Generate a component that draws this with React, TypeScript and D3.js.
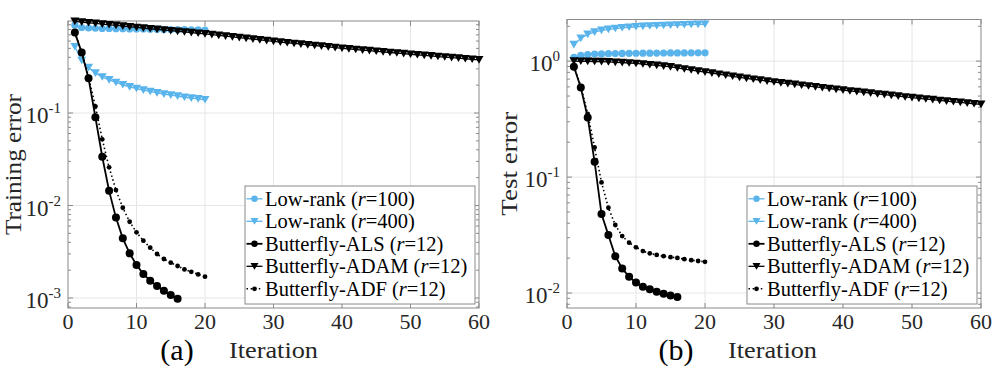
import { useEffect, useRef } from 'react';
import * as d3 from 'd3';

// Training error (panel a)
const trainLowRank100 = [0.89, 0.84, 0.83, 0.825, 0.82, 0.82, 0.815, 0.815, 0.81, 0.81, 0.81, 0.805, 0.805, 0.8, 0.8, 0.8, 0.8, 0.795, 0.795, 0.79];
const trainLowRank400 = [0.52, 0.37, 0.31, 0.27, 0.245, 0.228, 0.214, 0.202, 0.192, 0.184, 0.177, 0.171, 0.165, 0.16, 0.156, 0.152, 0.148, 0.145, 0.142, 0.139];
const trainALS = [0.74, 0.45, 0.237, 0.09, 0.0337, 0.0144, 0.0074, 0.00442, 0.00304, 0.00228, 0.00182, 0.00154, 0.00135, 0.0012, 0.00108, 0.00098];
const trainADAM = [
  0.977, 0.961, 0.945, 0.93, 0.914, 0.899, 0.885, 0.87, 0.856, 0.841,
  0.828, 0.815, 0.802, 0.789, 0.776, 0.764, 0.752, 0.74, 0.728, 0.716,
  0.703, 0.69, 0.678, 0.665, 0.653, 0.641, 0.63, 0.618, 0.607, 0.596,
  0.585, 0.575, 0.565, 0.556, 0.546, 0.537, 0.528, 0.519, 0.51, 0.501,
  0.494, 0.486, 0.479, 0.472, 0.465, 0.458, 0.451, 0.445, 0.438, 0.432,
  0.426, 0.42, 0.414, 0.408, 0.403, 0.397, 0.392, 0.386, 0.381, 0.376
];
const trainADF = [0.74, 0.46, 0.245, 0.118, 0.052, 0.0259, 0.0147, 0.00946, 0.00668, 0.00513, 0.00417, 0.0035, 0.00299, 0.00264, 0.00241, 0.00222, 0.00204, 0.00192, 0.0018, 0.0017];

// Test error (panel b)
const testLowRank100 = [1.08, 1.12, 1.14, 1.15, 1.155, 1.16, 1.162, 1.165, 1.167, 1.17, 1.171, 1.172, 1.174, 1.175, 1.176, 1.177, 1.178, 1.179, 1.18, 1.18];
const testLowRank400 = [1.39, 1.57, 1.7, 1.78, 1.84, 1.88, 1.91, 1.94, 1.96, 1.98, 1.995, 2.01, 2.02, 2.03, 2.04, 2.05, 2.06, 2.07, 2.075, 2.08];
const testALS = [0.893, 0.593, 0.327, 0.1355, 0.048, 0.0316, 0.0208, 0.0163, 0.0138, 0.0123, 0.01135, 0.01076, 0.01026, 0.00986, 0.00954, 0.00923];
const testADAM = [
  1.0, 0.998, 0.995, 0.993, 0.989, 0.984, 0.977, 0.97, 0.964, 0.955,
  0.944, 0.931, 0.918, 0.906, 0.891, 0.873, 0.855, 0.838, 0.82, 0.804,
  0.787, 0.771, 0.755, 0.74, 0.724, 0.711, 0.698, 0.685, 0.673, 0.661,
  0.65, 0.64, 0.63, 0.619, 0.61, 0.6, 0.59, 0.581, 0.571, 0.562,
  0.553, 0.546, 0.537, 0.53, 0.521, 0.514, 0.506, 0.499, 0.491, 0.484,
  0.478, 0.471, 0.465, 0.458, 0.452, 0.446, 0.441, 0.435, 0.429, 0.424
];
const testADF = [0.9, 0.61, 0.35, 0.18, 0.09, 0.0544, 0.0386, 0.031, 0.0272, 0.0248, 0.023, 0.022, 0.0213, 0.0208, 0.0204, 0.0201, 0.0196, 0.0192, 0.0189, 0.0186];

const xTicks = [0, 10, 20, 30, 40, 50, 60];
const legendNames = ['Low-rank (', 'Low-rank (', 'Butterfly-ALS (', 'Butterfly-ADAM (', 'Butterfly-ADF ('];
const legendRanks = ['100', '400', '12', '12', '12'];

const BLUE = '#5ab4ec';
const FONT = 'Liberation Serif, DejaVu Serif, serif';
const AXIS_GRAY = '#8a8a8a';

function buildSeries(lr100, lr400, als, adam, adf) {
  return [
    { values: lr100, color: BLUE, marker: 'circle', size: 3.6, width: 1.3, dash: null },
    { values: lr400, color: BLUE, marker: 'triangle', size: 9, width: 1.3, dash: null },
    { values: als, color: '#000', marker: 'circle', size: 4, width: 1.8, dash: null },
    { values: adam, color: '#000', marker: 'triangle', size: 9, width: 1.3, dash: null },
    { values: adf, color: '#000', marker: 'circle', size: 2.4, width: 1.6, dash: '1.5,2.6' }
  ];
}

function triPath(w) {
  const h = w * 0.85;
  return `M${-w / 2},${-h / 2}L${w / 2},${-h / 2}L0,${h / 2}Z`;
}

function drawMarker(sel, s) {
  if (s.marker === 'circle') {
    sel.append('circle').attr('r', s.size).attr('fill', s.color);
  } else {
    sel.append('path').attr('d', triPath(s.size)).attr('fill', s.color);
  }
}

function drawPanel(svg, cfg) {
  const { left, right, top, bottom, yMin, yMax, yTicks, series, yLabel, yLabelLen, tag } = cfg;
  const x = d3.scaleLinear().domain([0, 60]).range([left, right]);
  const y = d3.scaleLog().domain([yMin, yMax]).range([bottom, top]);
  const g = svg.append('g');

  // grid
  g.selectAll('.gx').data(xTicks.slice(1, -1)).join('line')
    .attr('x1', (d) => x(d)).attr('x2', (d) => x(d))
    .attr('y1', top).attr('y2', bottom)
    .attr('stroke', '#e6e6e6');
  g.selectAll('.gy').data(yTicks).join('line')
    .attr('x1', left).attr('x2', right)
    .attr('y1', (d) => y(d)).attr('y2', (d) => y(d))
    .attr('stroke', '#e6e6e6');

  // box + ticks
  g.append('rect')
    .attr('x', left).attr('y', top)
    .attr('width', right - left).attr('height', bottom - top)
    .attr('fill', 'none').attr('stroke', AXIS_GRAY);

  const minor = [];
  for (let e = Math.floor(Math.log10(yMin)); e <= Math.ceil(Math.log10(yMax)); e++) {
    for (let k = 2; k <= 9; k++) {
      const v = k * Math.pow(10, e);
      if (v > yMin && v < yMax) minor.push(v);
    }
  }
  const tickLines = [];
  xTicks.forEach((t) => {
    tickLines.push([x(t), bottom, x(t), bottom - 5]);
    tickLines.push([x(t), top, x(t), top + 5]);
  });
  yTicks.forEach((t) => {
    tickLines.push([left, y(t), left + 5, y(t)]);
    tickLines.push([right, y(t), right - 5, y(t)]);
  });
  minor.forEach((t) => {
    tickLines.push([left, y(t), left + 3, y(t)]);
    tickLines.push([right, y(t), right - 3, y(t)]);
  });
  g.selectAll('.tk').data(tickLines).join('line')
    .attr('x1', (d) => d[0]).attr('y1', (d) => d[1])
    .attr('x2', (d) => d[2]).attr('y2', (d) => d[3])
    .attr('stroke', AXIS_GRAY);

  // tick labels
  g.selectAll('.xl').data(xTicks).join('text')
    .attr('x', (d) => x(d)).attr('y', bottom + 21)
    .attr('text-anchor', 'middle')
    .attr('font-family', FONT).attr('font-size', 22).attr('fill', '#262626')
    .text((d) => d);

  const yl = g.selectAll('.yl').data(yTicks).join('text')
    .attr('x', left - 7).attr('y', (d) => y(d) + 10)
    .attr('text-anchor', 'end')
    .attr('font-family', FONT).attr('fill', '#262626');
  yl.append('tspan').attr('font-size', 23).text('10');
  yl.append('tspan').attr('font-size', 15).attr('dy', -10)
    .text((d) => String(Math.round(Math.log10(d))));

  // series
  series.forEach((s) => {
    const pts = s.values.map((v, i) => [i + 1, v]);
    const path = g.append('path')
      .datum(pts)
      .attr('d', d3.line().x((d) => x(d[0])).y((d) => y(d[1])))
      .attr('fill', 'none')
      .attr('stroke', s.color)
      .attr('stroke-width', s.width);
    if (s.dash) path.attr('stroke-dasharray', s.dash);
    const m = g.append('g').selectAll('g').data(pts).join('g')
      .attr('transform', (d) => `translate(${x(d[0])},${y(d[1])})`);
    drawMarker(m, s);
  });

  // legend
  const lw = 230;
  const lh = 118;
  const lx = right - 4 - lw;
  const ly = bottom - 4 - lh;
  const leg = g.append('g').attr('transform', `translate(${lx},${ly})`);
  leg.append('rect').attr('width', lw).attr('height', lh)
    .attr('fill', '#fff').attr('stroke', AXIS_GRAY);
  series.forEach((s, i) => {
    const row = leg.append('g').attr('transform', `translate(0,${12.8 + i * 22.5})`);
    const ln = row.append('line').attr('x1', 1.5).attr('x2', 17.5)
      .attr('stroke', s.color).attr('stroke-width', s.width);
    if (s.dash) ln.attr('stroke-dasharray', s.dash);
    const mk = row.append('g').attr('transform', 'translate(9.5,0)');
    drawMarker(mk, { ...s, size: s.marker === 'triangle' ? 8 : Math.min(s.size, 3.2) });
    const t = row.append('text').attr('x', 20).attr('y', 7)
      .attr('font-family', FONT).attr('font-size', 20.5).attr('fill', '#000');
    t.append('tspan').text(legendNames[i]);
    t.append('tspan').attr('font-style', 'italic').text('r');
    t.append('tspan').text(`=${legendRanks[i]})`);
  });

  // labels
  const cy = (top + bottom) / 2;
  g.append('text')
    .attr('transform', `translate(${left - cfg.yLabelOffset},${cy}) rotate(-90)`)
    .attr('text-anchor', 'middle')
    .attr('font-family', FONT).attr('font-size', 24).attr('fill', '#262626')
    .attr('textLength', yLabelLen).attr('lengthAdjust', 'spacingAndGlyphs')
    .text(yLabel);
  g.append('text')
    .attr('x', left + 161).attr('y', 358)
    .attr('font-family', FONT).attr('font-size', 24).attr('fill', '#262626')
    .attr('textLength', 89).attr('lengthAdjust', 'spacingAndGlyphs')
    .text('Iteration');
  g.append('text')
    .attr('x', left + 109).attr('y', 360)
    .attr('text-anchor', 'middle')
    .attr('font-family', FONT).attr('font-size', 30).attr('fill', '#000')
    .text(tag);
}

export default function App() {
  const ref = useRef(null);

  useEffect(() => {
    const svg = d3.select(ref.current);
    svg.selectAll('*').remove();
    svg.append('rect').attr('width', 996).attr('height', 368).attr('fill', '#fff');

    drawPanel(svg, {
      left: 68, right: 479, top: 21, bottom: 308,
      yMin: 0.00078, yMax: 0.988,
      yTicks: [0.001, 0.01, 0.1],
      series: buildSeries(trainLowRank100, trainLowRank400, trainALS, trainADAM, trainADF),
      yLabel: 'Training error', yLabelLen: 141, yLabelOffset: 47,
      tag: '(a)'
    });
    drawPanel(svg, {
      left: 567, right: 981, top: 19.5, bottom: 308,
      yMin: 0.00743, yMax: 2.286,
      yTicks: [0.01, 0.1, 1],
      series: buildSeries(testLowRank100, testLowRank400, testALS, testADAM, testADF),
      yLabel: 'Test error', yLabelLen: 104, yLabelOffset: 50,
      tag: '(b)'
    });
  }, []);

  return (
    <svg
      ref={ref}
      width={996}
      height={368}
      style={{ position: 'absolute', left: 0, top: 0, display: 'block' }}
    />
  );
}
